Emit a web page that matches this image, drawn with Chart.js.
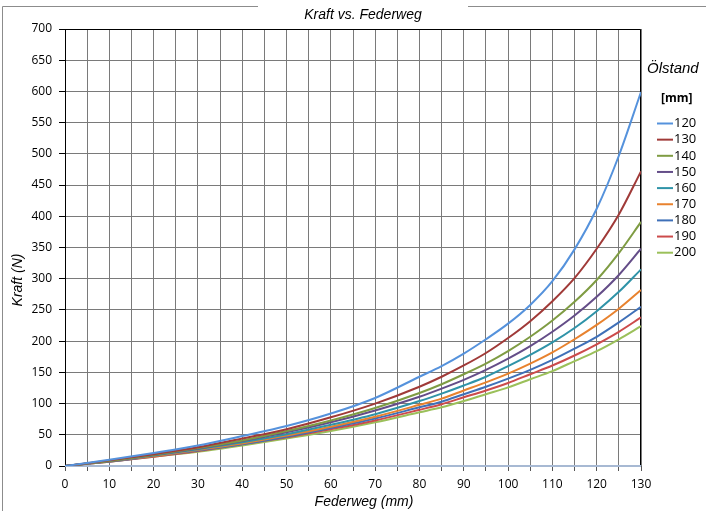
<!DOCTYPE html>
<html>
<head>
<meta charset="utf-8">
<script src="https://cdn.jsdelivr.net/npm/chart.js@4.4.0/dist/chart.umd.min.js"></script>
<style>
  html, body { margin: 0; padding: 0; background: #fff; }
</style>
</head>
<body>
<canvas id="mycanvas" width="706" height="511"></canvas>
<script>
// Federweg (mm) and Kraft (N) per Ölstand
var federweg = [0, 10, 20, 30, 40, 50, 60, 70, 80, 85, 90, 95, 100, 105, 110, 115, 120, 125, 130];

var kraft120 = [0, 10, 21, 33, 48, 64, 84, 109, 143, 160, 180, 203, 228, 258, 296, 347, 412, 497, 599];
var kraft130 = [0, 9, 19, 30, 44, 59, 78, 100, 127, 143, 161, 181, 205, 232, 264, 301, 348, 403, 472];
var kraft140 = [0, 8, 18, 29, 41, 56, 73, 93, 117, 131, 147, 164, 184, 207, 233, 263, 298, 341, 391];
var kraft150 = [0, 8, 18, 28, 40, 54, 70, 89, 111, 124, 138, 154, 172, 192, 215, 241, 271, 306, 348];
var kraft160 = [0, 8, 17, 27, 38, 51, 66, 83, 104, 116, 129, 143, 160, 178, 198, 221, 248, 279, 315];
var kraft170 = [0, 8, 16, 26, 36, 49, 63, 79, 98, 108, 121, 134, 148, 164, 182, 203, 226, 252, 282];
var kraft180 = [0, 7, 16, 25, 35, 47, 61, 76, 94, 103, 115, 127, 140, 154, 170, 188, 207, 230, 255];
var kraft190 = [0, 7, 15, 24, 35, 46, 59, 73, 90, 99, 110, 121, 133, 147, 161, 177, 195, 215, 238];
var kraft200 = [0, 7, 15, 23, 33, 44, 56, 70, 86, 94, 104, 115, 126, 139, 152, 168, 184, 203, 224];

var oelstand = ["120", "130", "140", "150", "160", "170", "180", "190", "200"];
var farben = ["#5592dc", "#a03a38", "#7f9c43", "#644d88", "#2f93a8", "#e8822e", "#3f70b8", "#cc4b4b", "#9bc05a"];
var reihen = [kraft120, kraft130, kraft140, kraft150, kraft160, kraft170, kraft180, kraft190, kraft200];

var datasets = [];
for (var i in reihen) {
  datasets.push({
    label: oelstand[i],
    data: federweg.map(function (x, j) { return { x: x, y: reihen[i][j] }; }),
    borderColor: farben[i],
    backgroundColor: farben[i],
    borderWidth: 2,
    pointRadius: 0,
    fill: false,
    cubicInterpolationMode: 'monotone'
  });
}

var tickFont = { family: "'Open Sans', sans-serif", size: 12 };

// frame, title, axis titles and the legend on the right
var deko = {
  id: 'deko',
  beforeDraw: function (chart) {
    var c = chart.ctx;
    c.save();
    c.fillStyle = '#fff';
    c.fillRect(0, 0, chart.width, chart.height);
    c.strokeStyle = '#8c8c8c';
    c.lineWidth = 1;
    c.beginPath();
    c.moveTo(2.5, 511);
    c.lineTo(2.5, 6.5);
    c.lineTo(258, 6.5);
    c.moveTo(468, 6.5);
    c.lineTo(706, 6.5);
    c.stroke();
    c.fillStyle = '#000';
    c.font = "italic 14px 'Liberation Sans', Arial, sans-serif";
    c.textAlign = 'center';
    c.textBaseline = 'middle';
    c.fillText('Kraft vs. Federweg', 363, 15);
    c.restore();
  },
  beforeDatasetsDraw: function (chart) {
    var a = chart.chartArea, c = chart.ctx;
    c.save();
    c.strokeStyle = '#000';
    c.lineWidth = 1;
    c.beginPath();
    c.moveTo(a.left + 0.5, a.bottom);
    c.lineTo(a.left + 0.5, a.top + 0.5);
    c.lineTo(a.right - 0.5, a.top + 0.5);
    c.lineTo(a.right - 0.5, a.bottom);
    c.stroke();
    c.strokeStyle = '#a7b9d3';
    c.lineWidth = 2;
    c.beginPath();
    c.moveTo(a.left, a.bottom);
    c.lineTo(a.right, a.bottom);
    c.stroke();
    c.restore();
  },
  afterDraw: function (chart) {
    var c = chart.ctx;
    c.save();
    c.fillStyle = '#000';
    c.font = "italic 14px 'Liberation Sans', Arial, sans-serif";
    c.textAlign = 'center';
    c.textBaseline = 'middle';
    c.fillText('Federweg (mm)', 364, 502);
    c.save();
    c.translate(18, 280);
    c.rotate(-Math.PI / 2);
    c.fillText('Kraft (N)', 0, 0);
    c.restore();

    c.textAlign = 'left';
    c.font = "italic 15px 'Liberation Sans', Arial, sans-serif";
    c.fillText('Ölstand', 647, 69);
    c.font = "bold 12px 'Open Sans', sans-serif";
    c.fillText('[mm]', 661, 99);
    c.font = "13px 'Open Sans', sans-serif";
    chart.data.datasets.forEach(function (ds, k) {
      var y = 123.5 + k * 16.15;
      c.strokeStyle = ds.borderColor;
      c.lineWidth = 2;
      c.beginPath();
      c.moveTo(657, y);
      c.lineTo(673, y);
      c.stroke();
      c.fillText(ds.label, 674, y);
    });
    c.restore();
  }
};

var ctx = document.getElementById('mycanvas');

var KraftGraph = new Chart(ctx, {
  type: 'line',
  data: { datasets: datasets },
  plugins: [deko],
  options: {
    responsive: false,
    animation: { duration: 0 },
    layout: { padding: { top: 29, right: 65, left: 0, bottom: 0 } },
    plugins: {
      legend: { display: false },
      title: { display: false },
      tooltip: { enabled: false }
    },
    scales: {
      x: {
        type: 'linear',
        min: 0,
        max: 130,
        afterFit: function (scale) { scale.height = 45; },
        ticks: {
          stepSize: 5,
          autoSkip: false,
          maxRotation: 0,
          padding: 6,
          color: '#000',
          font: tickFont,
          callback: function (v) { return v % 10 === 0 ? v : ''; }
        },
        grid: { color: '#7a7a7a', lineWidth: 1, tickLength: 5, tickColor: '#555' },
        border: { display: false }
      },
      y: {
        min: 0,
        max: 700,
        afterFit: function (scale) { scale.width = 65; },
        ticks: { stepSize: 50, padding: 7, color: '#000', font: tickFont },
        grid: { color: '#7a7a7a', lineWidth: 1, tickLength: 6, tickColor: '#000' },
        border: { display: true, color: '#000' }
      }
    }
  }
});
</script>
</body>
</html>
